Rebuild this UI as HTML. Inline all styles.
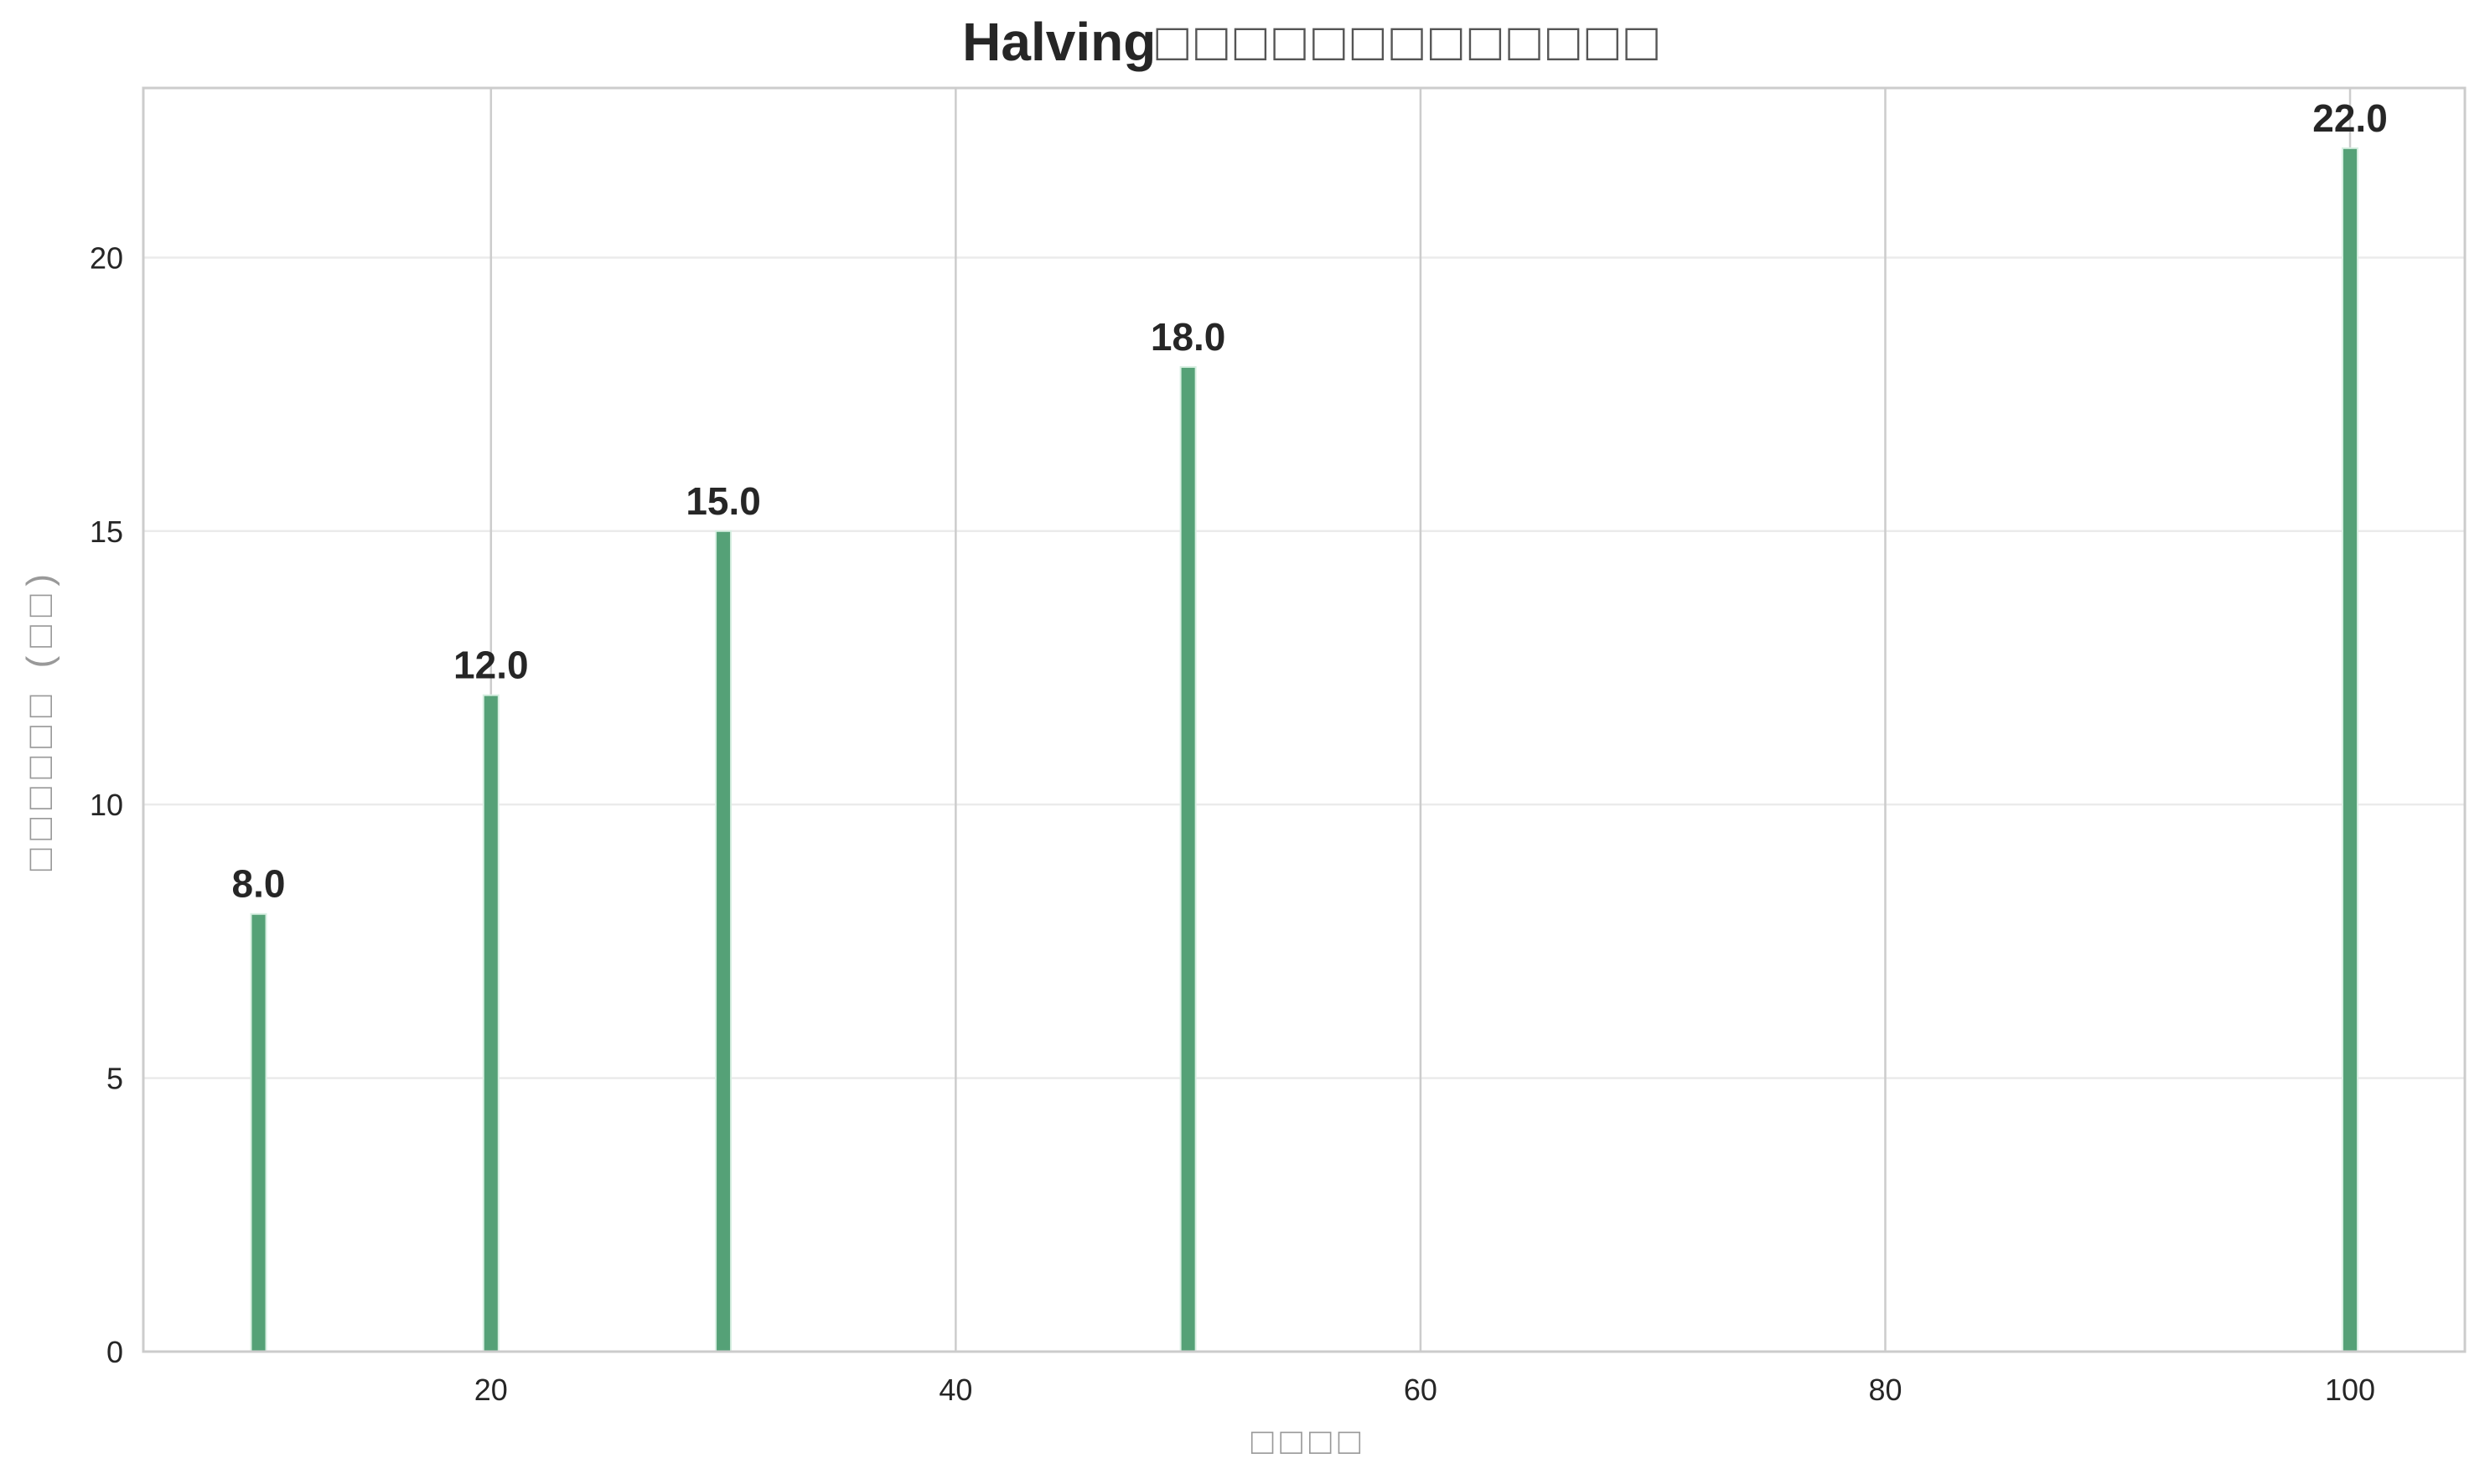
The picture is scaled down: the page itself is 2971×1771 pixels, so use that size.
<!DOCTYPE html>
<html><head><meta charset="utf-8"><style>
html,body{margin:0;padding:0;background:#fff;}
svg{display:block;font-family:"Liberation Sans","DejaVu Sans",sans-serif;}
</style></head><body>
<svg id="chart" width="2971" height="1771" viewBox="0 0 2971 1771" xmlns="http://www.w3.org/2000/svg">
<rect x="0" y="0" width="2971" height="1771" fill="#fff"/>
<g id="grid"></g><g id="bars"></g><g id="labels"></g><g id="ticks"></g>
<text x="1567" y="72" text-anchor="middle" font-size="64" font-weight="bold" fill="#262626">Halving<tspan font-weight="normal" fill="#555" letter-spacing="8">□□□□□□□□□□□□□</tspan></text>
<text x="1562" y="1735" text-anchor="middle" font-size="44" fill="#999" letter-spacing="8">□□□□</text>
<text transform="translate(62,857) rotate(-90)" text-anchor="middle" font-size="44" fill="#999" letter-spacing="10">□□□□□□ (□□)</text>
</svg>
<script>
const categories = [10, 20, 30, 50, 100];
const values = [8.0, 12.0, 15.0, 18.0, 22.0];
const xTicks = [20, 40, 60, 80, 100];
const yTicks = [0, 5, 10, 15, 20];

const L=171, R=2941, T=105, B=1613;
const xmin=5.04, xmax=104.94, ymin=0, ymax=23.1;
const xs=v=>L+(v-xmin)/(xmax-xmin)*(R-L);
const ys=v=>B-(v-ymin)/(ymax-ymin)*(B-T);
const NS="http://www.w3.org/2000/svg";
function mk(tag,attrs,parent){const e=document.createElementNS(NS,tag);for(const k in attrs)e.setAttribute(k,attrs[k]);document.getElementById(parent).appendChild(e);return e;}

yTicks.forEach(t=>{
  if(t>0){const g=mk('line',{x1:L,x2:R,y1:ys(t),y2:ys(t),stroke:'#ebebeb','stroke-width':2.5},'grid');
  
  }
  const tx=mk('text',{x:L-24,y:ys(t)+13,'text-anchor':'end','font-size':36,fill:'#262626'},'ticks');
  tx.textContent=t;
  
  
});
xTicks.forEach(t=>{
  const g=mk('line',{x1:xs(t),x2:xs(t),y1:T,y2:B,stroke:'#cccccc','stroke-width':2.5},'grid');
  
  
  const tx=mk('text',{x:xs(t),y:B+58,'text-anchor':'middle','font-size':36,fill:'#262626'},'ticks');
  tx.textContent=t;
  
  
});
const bw=0.65;
categories.forEach((c,i)=>{
  const x0=xs(c-bw/2), x1=xs(c+bw/2), yt=ys(values[i]);
  const r=mk('rect',{x:x0,y:yt,width:x1-x0,height:B-yt,fill:'#55a177',stroke:'#d8efe2','stroke-width':2},'bars');
  
  
  const t=mk('text',{x:xs(c),y:yt-20,'text-anchor':'middle','font-size':46,'font-weight':'bold',fill:'#262626'},'labels');
  t.textContent=values[i].toFixed(1);
  
  
});
const f=mk('rect',{x:L,y:T,width:R-L,height:B-T,fill:'none',stroke:'#cccccc','stroke-width':3},'ticks');


</script>
</body></html>
